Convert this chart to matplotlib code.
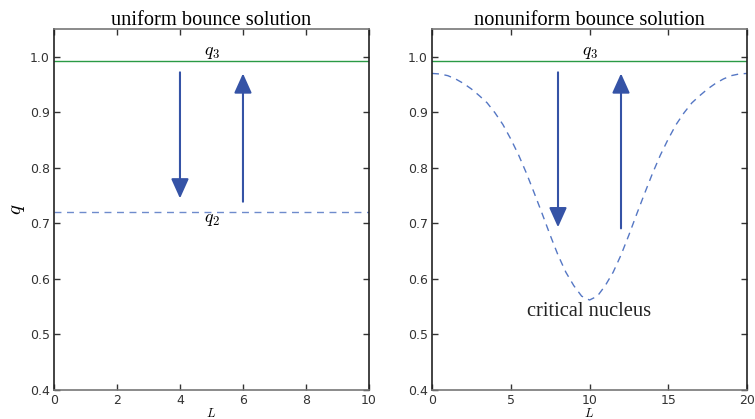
import numpy as np
import matplotlib
matplotlib.use("Agg")
import matplotlib.pyplot as plt

# q levels of the two homogeneous states
q3_level = 0.992
q2_level = 0.72

# uniform bounce: L range and arrows (x, tail, tip)
uniform_L = [0, 10]
uniform_arrows = [(4, 0.972, 0.745), (6, 0.739, 0.970)]

# nonuniform bounce profile (critical nucleus), read at half-unit steps
nucleus_L = [0, 0.5, 1, 1.5, 2, 2.5, 3, 3.5, 4, 4.5, 5, 5.5, 6, 6.5, 7, 7.5,
             8, 8.5, 9, 9.5, 10, 10.5, 11, 11.5, 12, 12.5, 13, 13.5, 14,
             14.5, 15, 15.5, 16, 16.5, 17, 17.5, 18, 18.5, 19, 19.5, 20]
nucleus_q = [0.970, 0.969, 0.966, 0.960, 0.952, 0.942, 0.930, 0.917, 0.899,
             0.878, 0.852, 0.823, 0.790, 0.754, 0.717, 0.679, 0.643, 0.612,
             0.588, 0.569, 0.562, 0.569, 0.588, 0.612, 0.643, 0.679, 0.717,
             0.754, 0.790, 0.823, 0.852, 0.878, 0.899, 0.917, 0.930, 0.942,
             0.952, 0.960, 0.966, 0.969, 0.970]
nucleus_arrows = [(8, 0.972, 0.693), (12, 0.691, 0.970)]

yticks = [0.4, 0.5, 0.6, 0.7, 0.8, 0.9, 1.0]

plt.rcParams["mathtext.fontset"] = "cm"
serif = "Liberation Serif"
green = "#2a9a45"
arrow_blue = "#3553a6"
dash_blue = "#5577c4"

fig = plt.figure(figsize=(7.55, 4.19), dpi=100)
ax1 = fig.add_axes([0.0715, 0.0692, 0.4172, 0.8616])
ax2 = fig.add_axes([0.5722, 0.0692, 0.4172, 0.8616])


def style_axes(ax):
    ax.set_ylim(0.4, 1.05)
    ax.set_yticks(yticks)
    ax.tick_params(direction="in", top=True, right=True, length=4,
                   width=1, labelsize=9, colors="#333333", pad=3)
    for side in ("left", "right"):
        ax.spines[side].set_color("#222222")
    for side in ("top", "bottom"):
        ax.spines[side].set_color("#777777")
    for s in ax.spines.values():
        s.set_linewidth(1.2)
    ax.set_xlabel("$L$", fontsize=9, labelpad=0)


def draw_arrows(ax, arrows):
    for x, tail, tip in arrows:
        ax.annotate("", xy=(x, tip), xytext=(x, tail),
                    arrowprops=dict(arrowstyle="-|>,head_width=0.45,head_length=1.0",
                                    mutation_scale=12, lw=1.5,
                                    color=arrow_blue, shrinkA=0, shrinkB=0))


# left panel: uniform bounce
ax1.plot(uniform_L, [q3_level, q3_level], color=green, lw=1)
ax1.plot(uniform_L, [q2_level, q2_level], color=dash_blue, lw=1,
         dashes=(5, 4), alpha=0.85)
draw_arrows(ax1, uniform_arrows)
ax1.text(5, 0.993, "$q_3$", fontsize=13, ha="center", va="bottom")
ax1.text(5.0, 0.708, "$q_2$", fontsize=13, ha="center", va="center")
ax1.set_xlim(0, 10)
ax1.set_xticks([0, 2, 4, 6, 8, 10])
style_axes(ax1)
ax1.set_ylabel("$q$", fontsize=15, labelpad=2)
ax1.set_title("uniform bounce solution", family=serif, fontsize=14.7, pad=3)

# right panel: nonuniform bounce
ax2.plot([0, 20], [q3_level, q3_level], color=green, lw=1)
ax2.plot(nucleus_L, nucleus_q, color=dash_blue, lw=1, dashes=(5, 4))
draw_arrows(ax2, nucleus_arrows)
ax2.text(10, 0.993, "$q_3$", fontsize=13, ha="center", va="bottom")
ax2.text(10, 0.541, "critical nucleus", family=serif, fontsize=14.8,
         ha="center", va="center", color="#222222")
ax2.set_xlim(0, 20)
ax2.set_xticks([0, 5, 10, 15, 20])
style_axes(ax2)
ax2.set_title("nonuniform bounce solution", family=serif, fontsize=14.7, pad=3)

fig.savefig("out.png", dpi=100)
